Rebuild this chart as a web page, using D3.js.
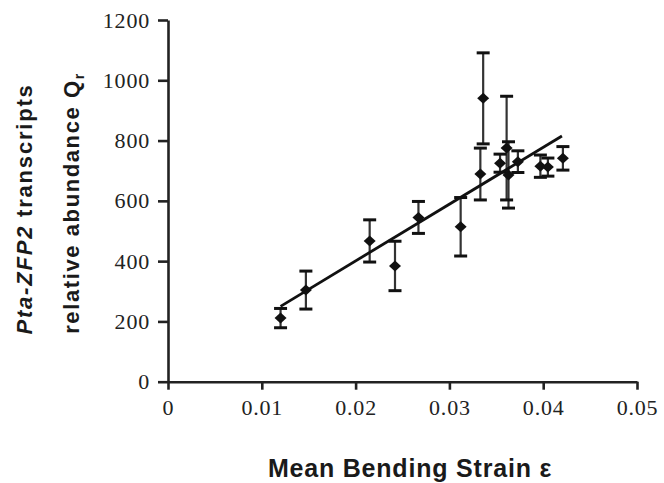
<!DOCTYPE html>
<html>
  <head>
    <title>Pta-ZFP2 vs bending strain</title>
    <script src="https://d3js.org/d3.v7.min.js"></script>
    <style>
      body { margin: 0; background: #fff; }
      .tick text { font-family: "Liberation Serif", serif; font-size: 22px; fill: #222; }
      .title { font-family: "Liberation Sans", Arial, sans-serif; font-weight: bold; fill: #1a1a1a; }
    </style>
  </head>
  <body>
    <svg width="664" height="483"></svg>
    <script>
      // values
      const strain    = [0.012, 0.0147, 0.0215, 0.0242, 0.0267, 0.0312, 0.0333, 0.0336, 0.0354, 0.0361, 0.0363, 0.0373, 0.0397, 0.0405, 0.0421];
      const abundance = [211, 304, 467, 384, 545, 514, 689, 940, 725, 775, 686, 730, 715, 712, 741];
      const errBar    = [32, 63, 70, 82, 53, 97, 86, 151, 30, 172, 110, 36, 37, 30, 39];
      const fitX = [0.012, 0.042];
      const fitY = [250, 815];
      const xTicks = [0, 0.01, 0.02, 0.03, 0.04, 0.05];
      const yTicks = [0, 200, 400, 600, 800, 1000, 1200];

      const svg = d3.select("svg");
      const x = d3.scaleLinear().domain([0, 0.05]).range([168, 637]);
      const y = d3.scaleLinear().domain([0, 1200]).range([381.7, 20]);

      const data = strain.map((s, i) => ({ s: s, q: abundance[i], e: errBar[i] }));

      // axes
      const yAxis = svg.append("g")
        .attr("transform", "translate(" + x(0) + ",0)")
        .call(d3.axisLeft(y).tickValues(yTicks).tickSize(10).tickPadding(8).tickSizeOuter(0)
          .tickFormat(d3.format("d")));
      const xAxis = svg.append("g")
        .attr("transform", "translate(0," + y(0) + ")")
        .call(d3.axisBottom(x).tickValues(xTicks).tickSize(8).tickPadding(10).tickSizeOuter(0)
          .tickFormat(d => d === 0 ? "0" : d3.format(".2f")(d)));
      [xAxis, yAxis].forEach(g => {
        g.select(".domain").attr("stroke", "#222").attr("stroke-width", 2.6);
        g.selectAll(".tick line").attr("stroke", "#222").attr("stroke-width", 2.6);
      });
      svg.selectAll(".tick text").style("letter-spacing", "0.8px");

      // error bars
      const eb = svg.append("g");
      eb.selectAll("line.stem").data(data).enter().append("line")
        .attr("x1", d => x(d.s)).attr("x2", d => x(d.s))
        .attr("y1", d => y(d.q + d.e)).attr("y2", d => y(d.q - d.e))
        .attr("stroke", "#333").attr("stroke-width", 2.2);
      eb.selectAll("line.capT").data(data).enter().append("line")
        .attr("x1", d => x(d.s) - 6.5).attr("x2", d => x(d.s) + 6.5)
        .attr("y1", d => y(d.q + d.e)).attr("y2", d => y(d.q + d.e))
        .attr("stroke", "#111").attr("stroke-width", 3);
      eb.selectAll("line.capB").data(data).enter().append("line")
        .attr("x1", d => x(d.s) - 6.5).attr("x2", d => x(d.s) + 6.5)
        .attr("y1", d => y(d.q - d.e)).attr("y2", d => y(d.q - d.e))
        .attr("stroke", "#111").attr("stroke-width", 3);

      // fitted line
      svg.append("path")
        .datum(fitX.map((v, i) => [v, fitY[i]]))
        .attr("d", d3.line().x(d => x(d[0])).y(d => y(d[1])))
        .attr("stroke", "#111").attr("stroke-width", 2.8).attr("fill", "none");

      // diamond markers
      svg.append("g").selectAll("path").data(data).enter().append("path")
        .attr("d", "M0,-5.5L6,0L0,5.5L-6,0Z")
        .attr("transform", d => "translate(" + x(d.s) + "," + y(d.q) + ")")
        .attr("fill", "#111");

      // axis titles
      svg.append("text").attr("class", "title")
        .attr("x", 410).attr("y", 477).attr("text-anchor", "middle")
        .style("font-size", "25px").style("letter-spacing", "0.8px")
        .text("Mean Bending Strain \u03b5");

      const t1 = svg.append("text").attr("class", "title")
        .attr("transform", "translate(32,209) rotate(-90)")
        .attr("text-anchor", "middle").style("font-size", "22px").style("letter-spacing", "1.8px");
      t1.append("tspan").style("font-style", "italic").text("Pta-ZFP2");
      t1.append("tspan").text(" transcripts");

      const t2 = svg.append("text").attr("class", "title")
        .attr("transform", "translate(79,203) rotate(-90)")
        .attr("text-anchor", "middle").style("font-size", "22px").style("letter-spacing", "1.6px");
      t2.append("tspan").text("relative abundance Q");
      t2.append("tspan").attr("dy", 5).style("font-size", "14px").text("r");
    </script>
  </body>
</html>
